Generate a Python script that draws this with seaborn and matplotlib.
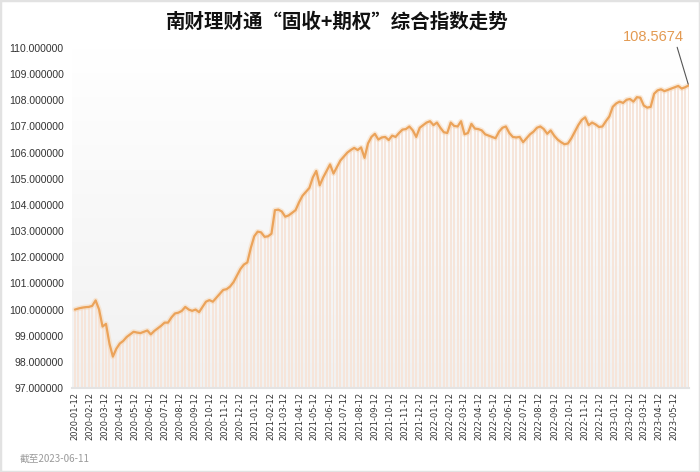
import numpy as np
import pandas as pd
import matplotlib
matplotlib.use("Agg")
import matplotlib.pyplot as plt
import matplotlib.dates as mdates
from matplotlib.patches import Rectangle
from matplotlib.colors import LinearSegmentedColormap
import seaborn as sns

# ---------------- data ----------------
title = "南财理财通“固收+期权”综合指数走势"
footnote = "截至2023-06-11"
start_date = "2020-01-12"
last_label = "108.5674"

index_values = [
    100.00, 100.04, 100.07, 100.09, 100.10, 100.14, 100.35, 100.00, 99.35, 99.45,
    98.70, 98.20, 98.50, 98.70, 98.80, 98.95, 99.05, 99.15, 99.12, 99.10,
    99.15, 99.20, 99.05, 99.18, 99.28, 99.38, 99.50, 99.50, 99.70, 99.85,
    99.88, 99.95, 100.10, 100.00, 99.95, 100.00, 99.90, 100.10, 100.30, 100.36,
    100.30, 100.45, 100.60, 100.75, 100.78, 100.88, 101.05, 101.30, 101.55, 101.72,
    101.80, 102.35, 102.80, 102.98, 102.95, 102.78, 102.80, 102.90, 103.80, 103.82,
    103.75, 103.55, 103.60, 103.70, 103.80, 104.10, 104.35, 104.50, 104.65, 105.05,
    105.30, 104.75, 105.05, 105.30, 105.55, 105.20, 105.45, 105.70, 105.85, 106.00,
    106.10, 106.18, 106.10, 106.20, 105.80, 106.35, 106.60, 106.72, 106.50, 106.58,
    106.60, 106.48, 106.65, 106.60, 106.75, 106.88, 106.90, 107.00, 106.85, 106.60,
    106.95, 107.05, 107.15, 107.20, 107.05, 107.15, 106.95, 106.78, 106.75, 107.15,
    107.02, 107.00, 107.20, 106.70, 106.75, 107.10, 106.92, 106.90, 106.85, 106.70,
    106.65, 106.60, 106.55, 106.80, 106.95, 107.00, 106.75, 106.60, 106.58, 106.60,
    106.40, 106.55, 106.70, 106.80, 106.95, 107.00, 106.90, 106.72, 106.85, 106.65,
    106.50, 106.40, 106.32, 106.35, 106.55, 106.80, 107.05, 107.25, 107.35, 107.05,
    107.15, 107.08, 106.98, 107.00, 107.20, 107.38, 107.75, 107.88, 107.95, 107.90,
    108.02, 108.05, 107.95, 108.12, 108.10, 107.80, 107.72, 107.75, 108.25, 108.38,
    108.42, 108.35, 108.40, 108.45, 108.50, 108.55, 108.45, 108.50, 108.5674,
]
dates = pd.date_range(start_date, periods=len(index_values), freq="7D")
y_ticks = list(range(97, 111))
y_min, y_max = 97, 110
x_start = pd.Timestamp("2020-01-06")
x_end = pd.Timestamp("2023-06-11 20:00")

df = pd.DataFrame({"date": dates, "value": index_values})

# ---------------- style ----------------
sns.set_theme(style="white")
plt.rcParams["font.family"] = ["Noto Sans CJK SC", "DejaVu Sans"]

W, H = 700, 472
fig = plt.figure(figsize=(W / 100, H / 100), dpi=100)
fig.patch.set_facecolor("white")

ax_l, ax_r, ax_t, ax_b = 72, 689, 48, 388
ax = fig.add_axes([ax_l / W, 1 - ax_b / H, (ax_r - ax_l) / W, (ax_b - ax_t) / H])
ax.set_facecolor("white")

# gradient background
grad = np.linspace(0, 1, 256).reshape(-1, 1)
cmap_bg = LinearSegmentedColormap.from_list("bg", ["#ffffff", "#f1f1f1"])
ax.imshow(grad, aspect="auto", cmap=cmap_bg, origin="upper",
          extent=[mdates.date2num(x_start), mdates.date2num(x_end), y_min, y_max],
          zorder=0)

# bars
ax.bar(df["date"], df["value"] - y_min, bottom=y_min, width=4.0,
       color="#f6e5da", linewidth=0, zorder=1)

# line glow + line
sns.lineplot(data=df, x="date", y="value", ax=ax, color="#f7d3ae",
             linewidth=3.8, alpha=0.45, zorder=2)
sns.lineplot(data=df, x="date", y="value", ax=ax, color="#eba35a",
             linewidth=1.6, zorder=3)

ax.set_xlim(x_start, x_end)
ax.set_ylim(y_min, y_max)
ax.set_yticks(y_ticks)
ax.yaxis.set_major_formatter(matplotlib.ticker.FormatStrFormatter("%.6f"))
ax.xaxis.set_major_locator(mdates.MonthLocator(bymonthday=12))
ax.xaxis.set_major_formatter(mdates.DateFormatter("%Y-%m-%d"))
ax.set_xlabel("")
ax.set_ylabel("")

for lab in ax.get_xticklabels():
    lab.set_rotation(90)
    lab.set_fontfamily(["DejaVu Sans"])
ax.tick_params(axis="x", labelsize=6, colors="#333333", pad=3, length=0)
ax.tick_params(axis="y", labelsize=7.5, colors="#333333", pad=6, length=0)
for lab in ax.get_yticklabels():
    lab.set_fontfamily(["Liberation Sans", "DejaVu Sans"])

for s in ["top", "right", "left"]:
    ax.spines[s].set_visible(False)
ax.spines["bottom"].set_color("#e3e3e3")
ax.spines["bottom"].set_linewidth(1.5)
ax.grid(False)

# annotation of last value
ax.annotate(last_label, xy=(df["date"].iloc[-1], df["value"].iloc[-1]),
            xytext=(653, H - 37), textcoords="figure pixels",
            ha="center", va="center", fontsize=10.5, color="#e39a52",
            fontfamily=["Liberation Sans", "DejaVu Sans"],
            arrowprops=dict(arrowstyle="-", color="#555555", lw=0.8,
                            shrinkA=0, shrinkB=1, relpos=(0.88, 0.0)),
            zorder=5)

# title and footnote
fig.text(0.482, 1 - 22 / H, title, ha="center", va="center",
         fontsize=14, fontweight="bold", color="#111111")
fig.text(20 / W, 1 - 459 / H, footnote, ha="left", va="center",
         fontsize=7, color="#9a9a9a")

# outer frame
fig.patches.append(Rectangle((0, 0), 1, 1, transform=fig.transFigure,
                             fill=False, edgecolor="#e2e2e2", linewidth=2.5))

fig.savefig("out.png", dpi=100)
